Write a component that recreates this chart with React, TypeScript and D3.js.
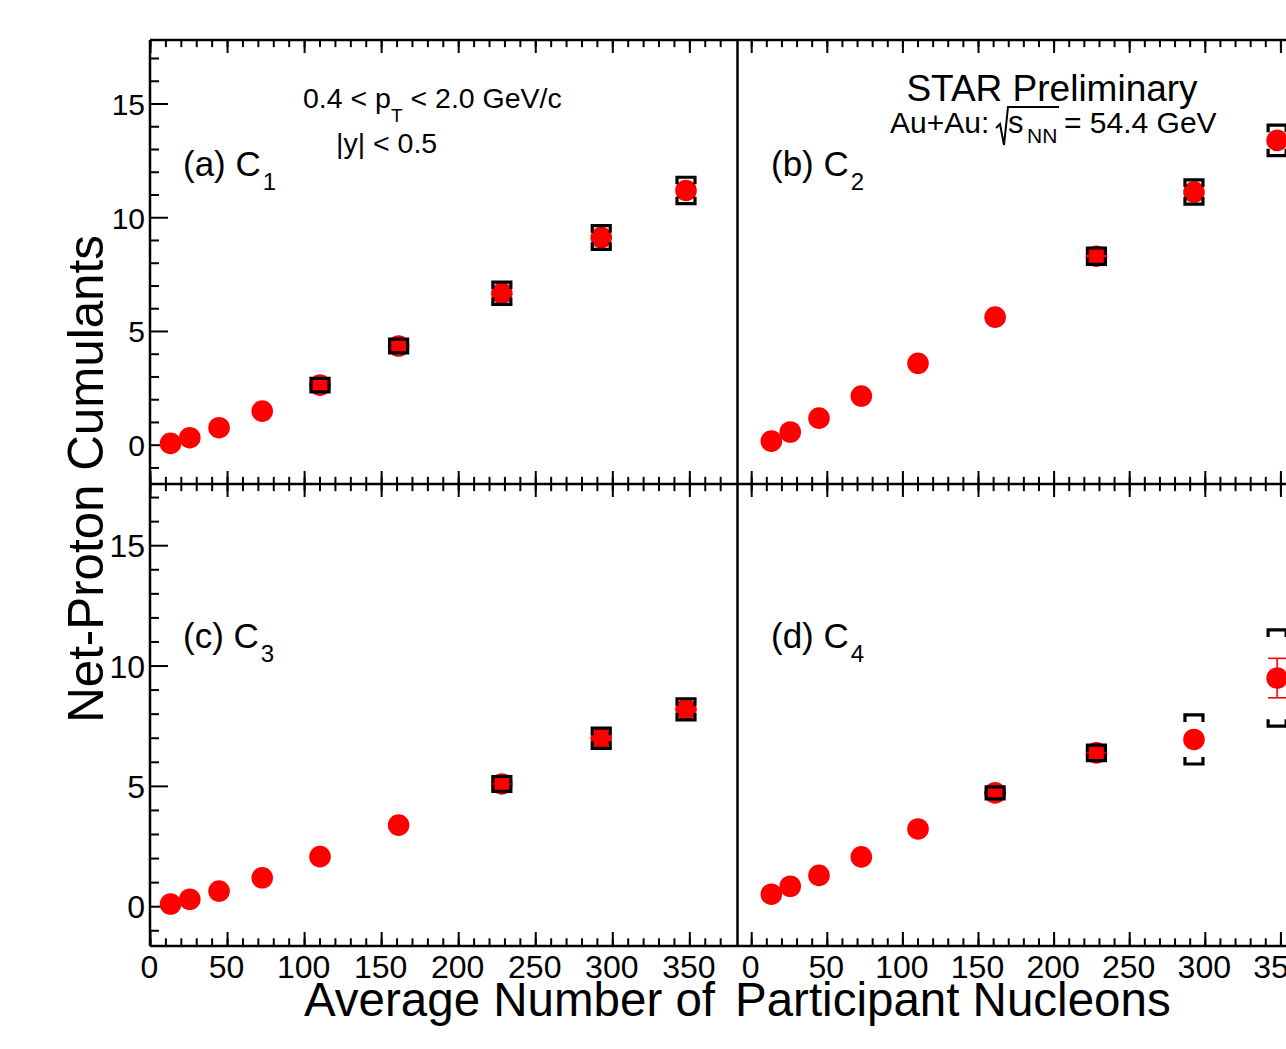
import React from "react";
import * as d3 from "d3";

// ---------- data ----------
const NPART = [13, 25.5, 44.5, 72.5, 110, 161, 228, 292.5, 347.5];

const C1 = [0.08, 0.33, 0.77, 1.5, 2.64, 4.36, 6.68, 9.13, 11.2];
const C1_STAT = [0.01, 0.01, 0.02, 0.02, 0.03, 0.04, 0.05, 0.06, 0.07];
const C1_SYS = [0, 0, 0, 0, 0.3, 0.3, 0.49, 0.52, 0.58];

const C2 = [0.18, 0.58, 1.19, 2.16, 3.6, 5.63, 8.31, 11.13, 13.4];
const C2_STAT = [0.01, 0.02, 0.03, 0.04, 0.05, 0.07, 0.09, 0.11, 0.13];
const C2_SYS = [0, 0, 0, 0, 0, 0, 0.36, 0.53, 0.67];

const C3 = [0.11, 0.31, 0.65, 1.2, 2.08, 3.39, 5.1, 7.0, 8.2];
const C3_STAT = [0.02, 0.03, 0.05, 0.07, 0.1, 0.13, 0.17, 0.2, 0.24];
const C3_SYS = [0, 0, 0, 0, 0, 0, 0.31, 0.42, 0.44];

const C4 = [0.52, 0.85, 1.3, 2.07, 3.23, 4.73, 6.39, 6.95, 9.5];
const C4_STAT = [0.03, 0.05, 0.08, 0.12, 0.16, 0.22, 0.28, 0.34, 0.82];
const C4_SYS = [0, 0, 0, 0, 0, 0.25, 0.32, 1.02, 2.0];

const X_MAJOR = [0, 50, 100, 150, 200, 250, 300, 350];
const X_MINOR_L = d3.range(0, 371, 10);
const X_MINOR_R = d3.range(0, 400, 10);
const Y_MAJOR = [0, 5, 10, 15];
const Y_MINOR = d3.range(-1, 18, 1);

// ---------- layout ----------
const W = 1286;
const H = 1049;
const FL = 150; // frame left
const FD = 737.5; // divider
const FR = 1330; // right frame (beyond view)
const FT = 40;
const FM = 484;
const FB = 946;
const FONT = "'Liberation Sans', Arial, Helvetica, sans-serif";

const xL = d3.scaleLinear().domain([0, 350]).range([150.5, 150.5 + 350 * 1.541]);
const xR = d3.scaleLinear().domain([0, 350]).range([751.7, 751.7 + 350 * 1.512]);
const yTop = d3.scaleLinear().domain([0, 15]).range([445.2, 104]);
const yBot = d3.scaleLinear().domain([0, 15]).range([906.7, 545.7]);

const R = 10.8;

type Panel = {
  x: d3.ScaleLinear<number, number>;
  y: d3.ScaleLinear<number, number>;
  vals: number[];
  stat: number[];
  sys: number[];
  label: string;
  sub: string;
  lx: number;
  ly: number;
};

const PANELS: Panel[] = [
  { x: xL, y: yTop, vals: C1, stat: C1_STAT, sys: C1_SYS, label: "(a) C", sub: "1", lx: 183, ly: 176 },
  { x: xR, y: yTop, vals: C2, stat: C2_STAT, sys: C2_SYS, label: "(b) C", sub: "2", lx: 771, ly: 176 },
  { x: xL, y: yBot, vals: C3, stat: C3_STAT, sys: C3_SYS, label: "(c) C", sub: "3", lx: 183, ly: 648 },
  { x: xR, y: yBot, vals: C4, stat: C4_STAT, sys: C4_SYS, label: "(d) C", sub: "4", lx: 771, ly: 648 },
];

function XTicks({ scale, y, minor, up, down }: any) {
  return (
    <g stroke="#000" strokeWidth={2}>
      {minor.map((v: number) => (
        <line key={"m" + v} x1={scale(v)} x2={scale(v)} y1={y - up * 0.55} y2={y + down * 0.55} />
      ))}
      {X_MAJOR.map((v) => (
        <line key={"M" + v} x1={scale(v)} x2={scale(v)} y1={y - up} y2={y + down} />
      ))}
    </g>
  );
}

function YTicks({ scale, yMin, yMax }: any) {
  return (
    <g stroke="#000" strokeWidth={2}>
      {Y_MINOR.filter((v) => scale(v) > yMin && scale(v) < yMax).map((v) => (
        <line key={"m" + v} x1={FL} x2={FL + (v % 5 === 0 ? 18 : 9)} y1={scale(v)} y2={scale(v)} />
      ))}
    </g>
  );
}

function PanelMarks({ p }: { p: Panel }) {
  const hw = 9;
  const leg = 7;
  return (
    <g>
      {p.vals.map((v, i) => {
        const cx = p.x(NPART[i]);
        const cy = p.y(v);
        const up = p.y(v + p.stat[i]);
        const dn = p.y(v - p.stat[i]);
        const show = cy - up > R;
        return (
          <g key={"e" + i}>
            {show && (
              <g stroke="#ff0000" strokeWidth={1.6}>
                <line x1={cx} x2={cx} y1={up} y2={dn} />
                <line x1={cx - 9} x2={cx + 9} y1={up} y2={up} />
                <line x1={cx - 9} x2={cx + 9} y1={dn} y2={dn} />
              </g>
            )}
            <circle cx={cx} cy={cy} r={R} fill="#ff0000" />
          </g>
        );
      })}
      {p.vals.map((v, i) => {
        if (!p.sys[i]) return null;
        const cx = p.x(NPART[i]);
        const t = p.y(v + p.sys[i]);
        const b = p.y(v - p.sys[i]);
        return (
          <g key={"s" + i} stroke="#000" strokeWidth={3.2} fill="none">
            <path d={`M${cx - hw},${t + leg} L${cx - hw},${t} L${cx + hw},${t} L${cx + hw},${t + leg}`} />
            <path d={`M${cx - hw},${b - leg} L${cx - hw},${b} L${cx + hw},${b} L${cx + hw},${b - leg}`} />
          </g>
        );
      })}
      <text x={p.lx} y={p.ly} fontSize={35} fontFamily={FONT}>
        {p.label}
        <tspan fontSize={24} dx={2} dy={14}>
          {p.sub}
        </tspan>
      </text>
    </g>
  );
}

export default function App() {
  return (
    <svg
      width={W}
      height={H}
      viewBox={`0 0 ${W} ${H}`}
      style={{ position: "absolute", left: 0, top: 0, background: "#fff" }}
    >
      <rect x={0} y={0} width={W} height={H} fill="#fff" />

      {/* ticks */}
      <XTicks scale={xL} y={FT} minor={X_MINOR_L} up={0} down={13} />
      <XTicks scale={xR} y={FT} minor={X_MINOR_R} up={0} down={13} />
      <XTicks scale={xL} y={FM} minor={X_MINOR_L} up={13} down={13} />
      <XTicks scale={xR} y={FM} minor={X_MINOR_R} up={13} down={13} />
      <XTicks scale={xL} y={FB} minor={X_MINOR_L} up={14} down={0} />
      <XTicks scale={xR} y={FB} minor={X_MINOR_R} up={14} down={0} />
      <YTicks scale={yTop} yMin={FT} yMax={FM} />
      <YTicks scale={yBot} yMin={FM} yMax={FB} />

      {/* frame */}
      <g stroke="#000" strokeWidth={2.5} fill="none">
        <line x1={FL} x2={FR} y1={FT} y2={FT} />
        <line x1={FL} x2={FR} y1={FM} y2={FM} />
        <line x1={FL} x2={FR} y1={FB} y2={FB} />
        <line x1={FL} x2={FL} y1={FT} y2={FB} />
        <line x1={FD} x2={FD} y1={FT} y2={FB} />
      </g>

      {/* y tick labels */}
      <g fontFamily={FONT} textAnchor="end">
        {Y_MAJOR.map((v) => (
          <text key={"yt" + v} x={145} y={yTop(v)} dy="0.36em" fontSize={30}>
            {v}
          </text>
        ))}
        {Y_MAJOR.map((v) => (
          <text key={"yb" + v} x={145} y={yBot(v)} dy="0.36em" fontSize={32}>
            {v}
          </text>
        ))}
      </g>

      {/* x tick labels */}
      <g fontFamily={FONT} textAnchor="middle" fontSize={32}>
        {X_MAJOR.map((v) => (
          <text key={"xl" + v} x={xL(v) - 1} y={978}>
            {v}
          </text>
        ))}
        {X_MAJOR.map((v) => (
          <text key={"xr" + v} x={xR(v) - 1} y={978}>
            {v}
          </text>
        ))}
      </g>

      {PANELS.map((p, i) => (
        <PanelMarks key={i} p={p} />
      ))}

      {/* annotations */}
      <g fontFamily={FONT} fill="#000">
        <text x={303} y={108} fontSize={28.5}>
          0.4 &lt; p
          <tspan fontSize={19} dy={14}>
            T
          </tspan>
          <tspan dy={-14}> &lt; 2.0 GeV/c</tspan>
        </text>
        <text x={336} y={153} fontSize={28.5}>
          |y| &lt; 0.5
        </text>
        <text x={1052} y={101} fontSize={37} textAnchor="middle">
          STAR Preliminary
        </text>
        <text x={890} y={133} fontSize={30}>
          Au+Au:
        </text>
        <path
          d="M996,128 L1000,124 L1004,145 L1008,107 L1059,107"
          stroke="#000"
          strokeWidth={2}
          fill="none"
        />
        <text x={1008} y={133} fontSize={31}>
          s
        </text>
        <text x={1027} y={143} fontSize={21}>
          NN
        </text>
        <text x={1064} y={133} fontSize={30}>
          = 54.4 GeV
        </text>
      </g>

      {/* axis titles */}
      <g fontFamily={FONT} fill="#000">
        <text x={304} y={1016} fontSize={47.5}>
          Average Number of
        </text>
        <text x={735} y={1016} fontSize={47.5}>
          Participant Nucleons
        </text>
        <text transform="translate(103,479) rotate(-90)" textAnchor="middle" fontSize={49.3}>
          Net-Proton Cumulants
        </text>
      </g>
    </svg>
  );
}
